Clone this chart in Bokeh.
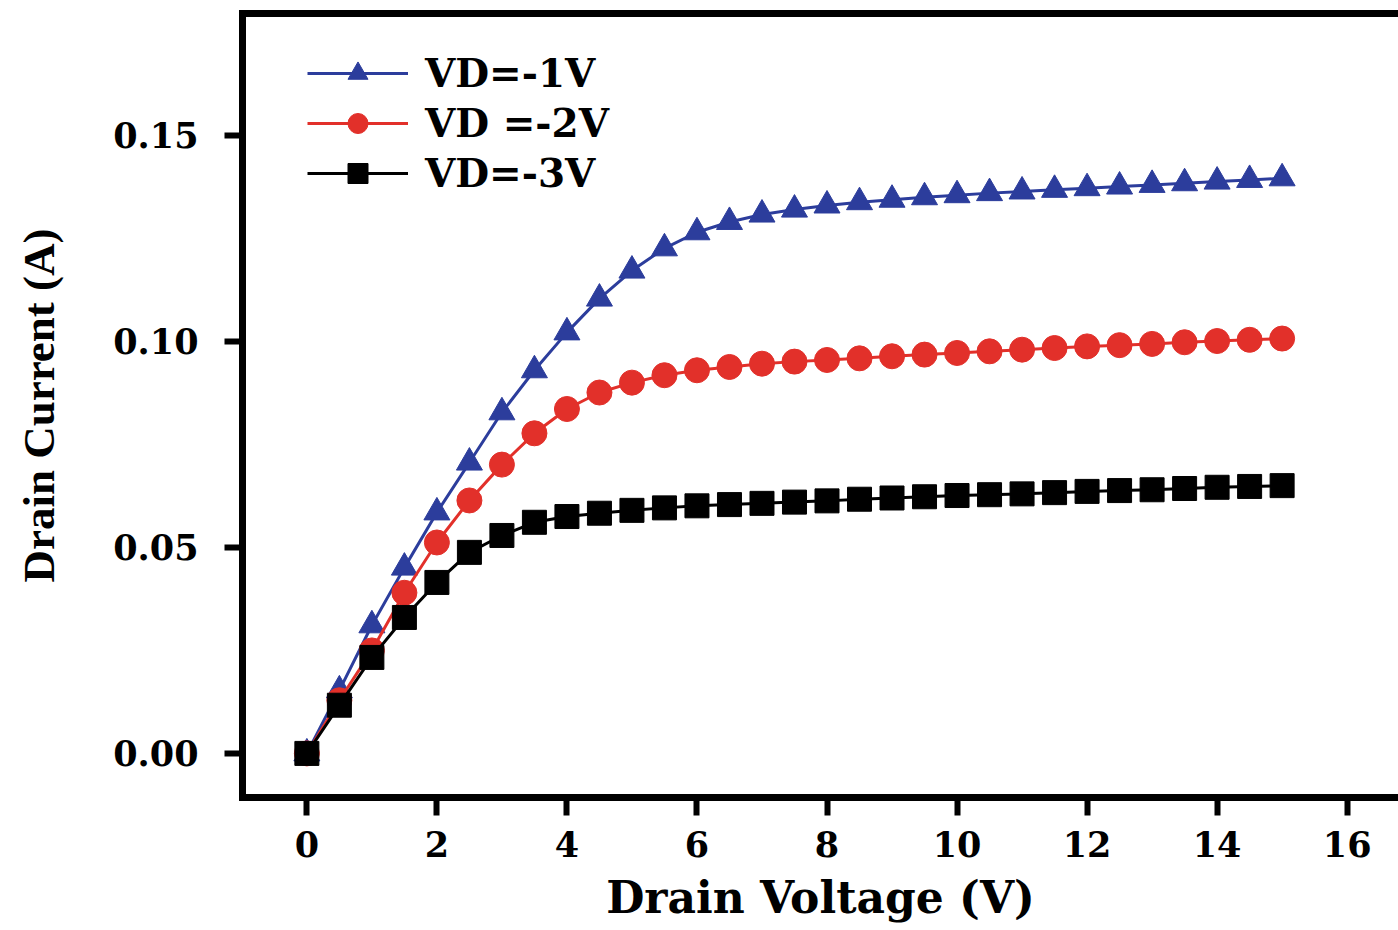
from bokeh.plotting import figure
from bokeh.models import Range1d, LinearAxis, FixedTicker, Legend, LegendItem, NumeralTickFormatter
from bokeh.embed import file_html
from bokeh.resources import INLINE

# ---- data ----
drain_voltage = [0, 0.5, 1, 1.5, 2, 2.5, 3, 3.5, 4, 4.5, 5, 5.5, 6, 6.5, 7, 7.5,
                 8, 8.5, 9, 9.5, 10, 10.5, 11, 11.5, 12, 12.5, 13, 13.5, 14, 14.5, 15]
current_vd1 = [0, 0.0153, 0.0311, 0.0451, 0.0585, 0.0706, 0.0828, 0.0930, 0.1022, 0.1104,
               0.1172, 0.1226, 0.1265, 0.1290, 0.1308, 0.1320, 0.1330, 0.1338, 0.1344, 0.1350,
               0.1355, 0.1360, 0.1364, 0.1368, 0.1372, 0.1376, 0.1380, 0.1384, 0.1388, 0.1392, 0.1396]
current_vd2 = [0, 0.0129, 0.0250, 0.0390, 0.0512, 0.0614, 0.0701, 0.0777, 0.0836, 0.0876,
               0.0900, 0.0918, 0.0930, 0.0938, 0.0946, 0.0951, 0.0955, 0.0959, 0.0964, 0.0968,
               0.0972, 0.0976, 0.0980, 0.0984, 0.0988, 0.0991, 0.0994, 0.0998, 0.1001, 0.1004, 0.1007]
current_vd3 = [0, 0.0117, 0.0233, 0.0330, 0.0415, 0.0488, 0.0529, 0.0561, 0.0575, 0.0583,
               0.0590, 0.0596, 0.0601, 0.0604, 0.0607, 0.0610, 0.0613, 0.0617, 0.0620, 0.0623,
               0.0626, 0.0628, 0.0630, 0.0633, 0.0636, 0.0638, 0.0640, 0.0643, 0.0646, 0.0648, 0.0650]
series_labels = ["VD=-1V", "VD =-2V", "VD=-3V"]
x_ticks = [0, 2, 4, 6, 8, 10, 12, 14, 16]
y_ticks = [0.0, 0.05, 0.10, 0.15]

BLUE = "#2c3d9c"
RED = "#e2302a"
BLACK = "#000000"

p = figure(width=1398, height=930, output_backend="svg", toolbar_location=None,
           x_range=Range1d(-0.99, 16.79), y_range=Range1d(-0.0107, 0.1796),
           min_border_left=242, min_border_right=0, min_border_top=13, min_border_bottom=133)
p.outline_line_color = None
p.grid.visible = False
p.background_fill_color = "white"
p.border_fill_color = "white"

TICK_FONT = "DejaVu Serif"

for ax in (p.xaxis[0], p.yaxis[0]):
    ax.axis_line_width = 7
    ax.axis_line_color = "black"
    ax.axis_line_cap = "square"
    ax.major_tick_line_width = 6
    ax.major_tick_line_color = "black"
    ax.major_tick_in = 0
    ax.major_tick_out = 18
    ax.minor_tick_line_color = None
    ax.major_label_text_font = TICK_FONT
    ax.major_label_text_font_style = "bold"
    ax.major_label_text_font_size = "35px"
    ax.major_label_text_color = "black"
    ax.axis_label_text_font_style = "bold"
    ax.axis_label_text_color = "black"

p.xaxis[0].ticker = FixedTicker(ticks=x_ticks)
p.xaxis[0].major_label_standoff = 15
p.xaxis[0].axis_label = "Drain Voltage (V)"
p.xaxis[0].axis_label_text_font = "DejaVu Serif"
p.xaxis[0].axis_label_text_font_size = "44px"
p.xaxis[0].axis_label_standoff = 12

p.yaxis[0].ticker = FixedTicker(ticks=y_ticks)
p.yaxis[0].formatter = NumeralTickFormatter(format="0.00")
p.yaxis[0].major_label_standoff = 26
p.yaxis[0].axis_label = "Drain Current (A)"
p.yaxis[0].axis_label_text_font = "Liberation Serif"
p.yaxis[0].axis_label_text_font_size = "45px"
p.yaxis[0].axis_label_standoff = 46

top_axis = LinearAxis(ticker=FixedTicker(ticks=[]), axis_line_width=7, axis_line_color="black",
                      axis_line_cap="square", major_tick_line_color=None, minor_tick_line_color=None,
                      major_label_text_font_size="0px")
p.add_layout(top_axis, "above")

items = []
specs = [(current_vd1, BLUE, "triangle", 26),
         (current_vd2, RED, "circle", 25),
         (current_vd3, BLACK, "square", 24)]
for (vals, col, mk, sz), lab in zip(specs, series_labels):
    rl = p.line(drain_voltage, vals, line_color=col, line_width=3)
    rs = p.scatter(drain_voltage, vals, marker=mk, size=sz, fill_color=col, line_color=col)
    items.append(LegendItem(label=lab, renderers=[rl, rs]))

legend = Legend(items=items, location=(65, 599), glyph_width=101, glyph_height=50,
                label_height=50, spacing=0, padding=0, margin=0, label_standoff=17,
                background_fill_alpha=0, border_line_alpha=0,
                label_text_font=TICK_FONT, label_text_font_style="bold",
                label_text_font_size="39px", label_text_color="black")
p.add_layout(legend)

open("out.html", "w").write(file_html(p, INLINE))
